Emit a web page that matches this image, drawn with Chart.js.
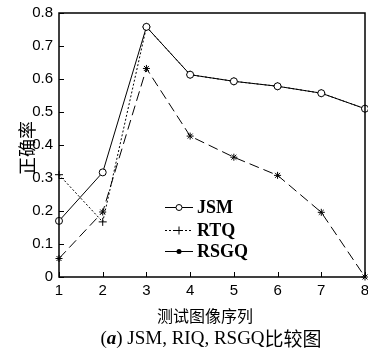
<!DOCTYPE html>
<html>
<head>
<meta charset="utf-8">
<script src="https://cdn.jsdelivr.net/npm/chart.js@4/dist/chart.umd.min.js"></script>
<style>
  html, body { margin: 0; padding: 0; background: #fff; }
  #wrap { width: 368px; height: 350px; }
</style>
</head>
<body>
<div id="wrap"><canvas id="cmp"></canvas></div>
<script>
// 测试图像序列
const seq = [1, 2, 3, 4, 5, 6, 7, 8];
const jsm  = [0.17, 0.317, 0.758, 0.613, 0.593, 0.578, 0.557, 0.51];
const rtq  = [0.31, 0.167, 0.758, 0.613, 0.593, 0.578, 0.557, 0.51];
const rsgq = [0.056, 0.197, 0.632, 0.427, 0.363, 0.308, 0.196, 0.0];
const seriesNames = ['JSM', 'RTQ', 'RSGQ'];
const yTicks = [0, 0.1, 0.2, 0.3, 0.4, 0.5, 0.6, 0.7, 0.8];

const toXY = vals => vals.map((v, i) => ({ x: seq[i], y: v }));

const styles = [
  { dash: [], point: 'circle', r: 3.5, fill: '#fff' },
  { dash: [2, 2], point: 'cross', r: 4, fill: '#000' },
  { dash: [10, 5], point: 'star', r: 3.5, fill: '#000' }
];

// 刻度朝内 + 边框 + 图例 + 标题
const extras = {
  id: 'extras',
  afterDraw(chart) {
    const { ctx, chartArea: a, scales } = chart;
    ctx.save();
    ctx.strokeStyle = '#000';
    ctx.lineWidth = 1;
    yTicks.forEach(t => {
      const y = Math.round(scales.y.getPixelForValue(t)) + 0.5;
      ctx.beginPath(); ctx.moveTo(a.left, y); ctx.lineTo(a.left + 5, y); ctx.stroke();
    });
    seq.forEach(s => {
      const x = Math.round(scales.x.getPixelForValue(s)) + 0.5;
      ctx.beginPath(); ctx.moveTo(x, a.bottom); ctx.lineTo(x, a.bottom - 5); ctx.stroke();
    });
    ctx.lineWidth = 1.5;
    ctx.strokeRect(a.left, a.top, a.right - a.left, a.bottom - a.top);

    // 图例
    const rows = [207, 230, 251];
    ctx.font = 'bold 18px "Liberation Serif", serif';
    ctx.textBaseline = 'middle';
    ctx.fillStyle = '#000';
    seriesNames.forEach((name, i) => {
      const y = rows[i] + 0.5;
      ctx.lineWidth = 1;
      ctx.setLineDash(i === 1 ? [2, 2] : []);
      ctx.beginPath(); ctx.moveTo(165, y); ctx.lineTo(193, y); ctx.stroke();
      ctx.setLineDash([]);
      if (i === 0) {
        ctx.fillStyle = '#fff';
        ctx.beginPath(); ctx.arc(179, y, 3, 0, Math.PI * 2); ctx.fill(); ctx.stroke();
        ctx.fillStyle = '#000';
      } else if (i === 1) {
        ctx.beginPath(); ctx.moveTo(175, y); ctx.lineTo(183, y); ctx.moveTo(179, y - 4); ctx.lineTo(179, y + 4); ctx.stroke();
      } else {
        ctx.beginPath(); ctx.arc(179, y, 2.5, 0, Math.PI * 2); ctx.fill();
      }
      ctx.fillText(name, 197, rows[i] + 1);
    });

    // 坐标轴标题
    ctx.textAlign = 'center';
    ctx.font = '16px "Noto Sans CJK SC", sans-serif';
    ctx.fillText('测试图像序列', 205, 316);
    ctx.save();
    ctx.translate(27, 148);
    ctx.rotate(-Math.PI / 2);
    ctx.font = '18px "Noto Sans CJK SC", sans-serif';
    ctx.fillText('正确率', 0, 0);
    ctx.restore();

    // 图注
    ctx.textAlign = 'left';
    const parts = [
      ['(', '19px "Liberation Serif", serif'],
      ['a', 'italic bold 19px "Liberation Serif", serif'],
      [') JSM, RIQ, RSGQ', '19px "Liberation Serif", serif'],
      ['比较图', '19px "Noto Sans CJK SC", sans-serif']
    ];
    let total = 0;
    parts.forEach(p => { ctx.font = p[1]; total += ctx.measureText(p[0]).width; });
    let x = 211 - total / 2;
    parts.forEach(p => { ctx.font = p[1]; ctx.fillText(p[0], x, 339); x += ctx.measureText(p[0]).width; });
    ctx.restore();
  }
};

new Chart(document.getElementById('cmp'), {
  type: 'line',
  data: {
    datasets: [jsm, rtq, rsgq].map((vals, i) => ({
      label: seriesNames[i],
      data: toXY(vals),
      borderColor: '#000',
      borderWidth: 1,
      borderDash: styles[i].dash,
      pointStyle: styles[i].point,
      pointRadius: styles[i].r,
      pointBackgroundColor: styles[i].fill,
      pointBorderColor: '#000',
      pointBorderWidth: 1,
      tension: 0,
      fill: false,
      clip: false
    }))
  },
  options: {
    responsive: true,
    maintainAspectRatio: false,
    animation: false,
    layout: { autoPadding: false, padding: { left: 0, right: 3, top: 13, bottom: 0 } },
    plugins: { legend: { display: false }, tooltip: { enabled: false } },
    scales: {
      x: {
        type: 'linear', min: 1, max: 8,
        afterFit: s => { s.height = 73; s.paddingLeft = 0; s.paddingRight = 0; },
        afterBuildTicks: s => { s.ticks = seq.map(v => ({ value: v })); },
        grid: { display: false, drawTicks: false },
        border: { display: false },
        ticks: { color: '#000', padding: 5, font: { family: '"Liberation Sans", Arial', size: 15 } }
      },
      y: {
        min: 0, max: 0.8,
        afterFit: s => { s.width = 59; s.paddingTop = 0; s.paddingBottom = 0; },
        afterBuildTicks: s => { s.ticks = yTicks.map(v => ({ value: v })); },
        grid: { display: false, drawTicks: false },
        border: { display: false },
        ticks: { color: '#000', padding: 6, font: { family: '"Liberation Sans", Arial', size: 15 },
                 callback: v => v === 0 ? '0' : v.toFixed(1) }
      }
    }
  },
  plugins: [extras]
});
</script>
</body>
</html>
